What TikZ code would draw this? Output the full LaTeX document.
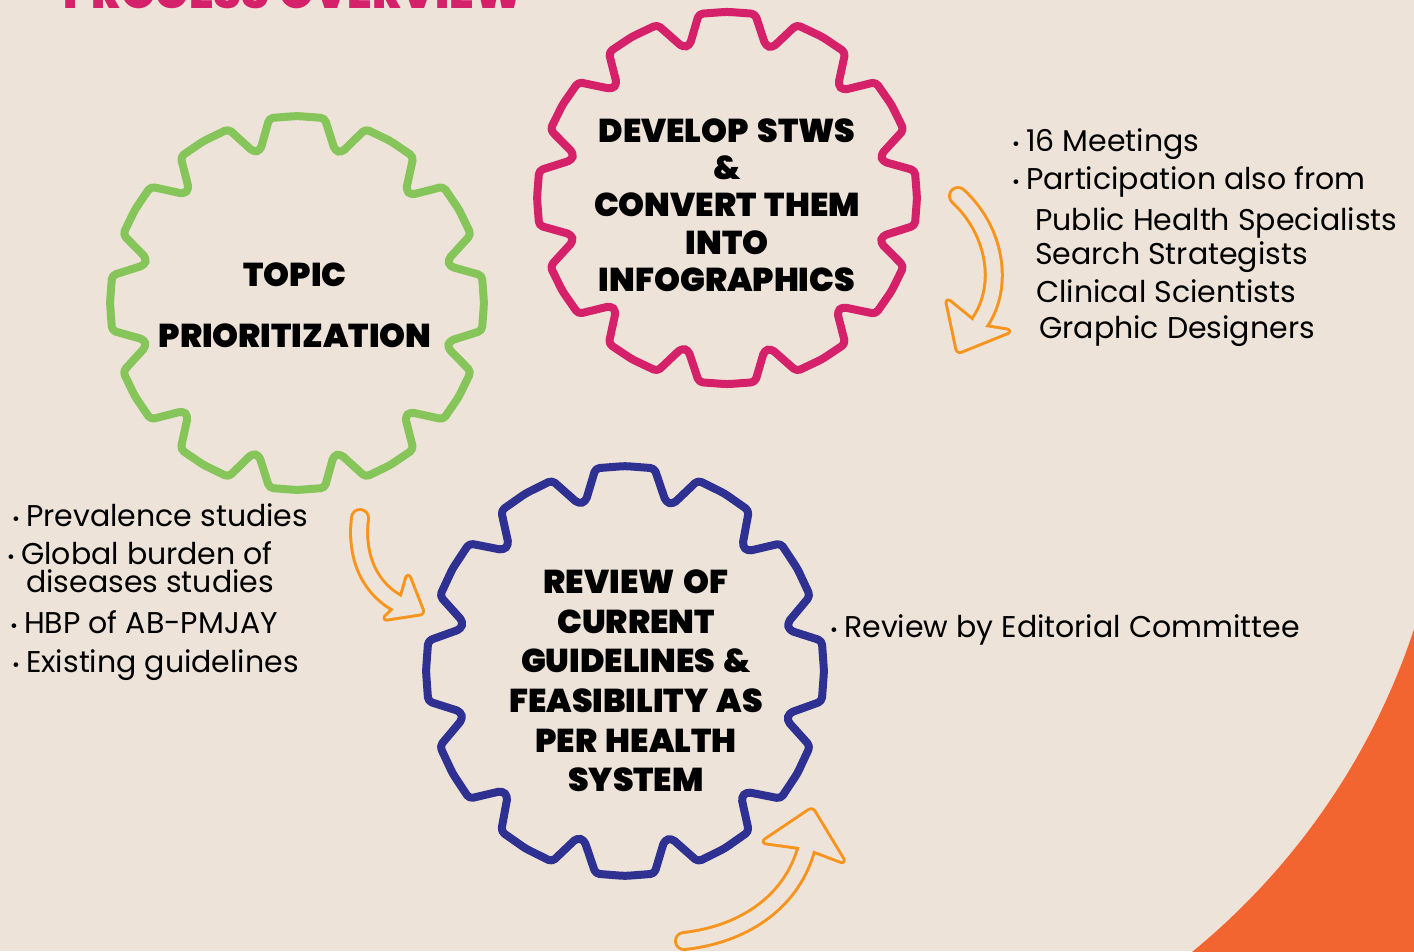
\documentclass[tikz,border=0pt]{standalone}
\usepackage{fontspec}
\setmainfont{Poppins}
\IfFontExistsTF{Poppins Black}{\newfontfamily\heavy{Poppins Black}[WordSpace=1.5]}{\newcommand\heavy{\bfseries}}

\definecolor{bg}{HTML}{EDE3D9}
\definecolor{cogpink}{HTML}{D5216A}
\definecolor{coggreen}{HTML}{86C55A}
\definecolor{cogblue}{HTML}{2E3192}
\definecolor{arroworange}{HTML}{F7941E}
\definecolor{cornerorange}{HTML}{F26531}

\tikzset{
  cogline/.style={line width=8pt, rounded corners=4pt, line join=round},
  coglabel/.style={align=center, inner sep=0pt, font=\heavy\fontsize{33}{37.3}\selectfont},
  item/.style={anchor=base west, inner sep=0pt, font=\fontsize{30}{36}\selectfont},
  arrowrim/.style={draw=arroworange, line width=20pt, line cap=round},
  arrowcore/.style={draw=bg, line width=14pt, line cap=round},
  headrim/.style={draw=arroworange, fill=arroworange, line width=6pt, line join=round, rounded corners=3pt},
  headcore/.style={fill=bg, rounded corners=3pt},
}

% cog with 12 teeth: x, y, radius, yscale, colour
\newcommand\drawcog[5]{%
  \draw[cogline, draw=#5, shift={(#1,#2)}, yscale=#4] (0:#3) -- (8.5:#3)
    \foreach \a in {30,60,...,330} {
      -- ({\a-16}:{#3-30}) -- ({\a-13.5}:{#3-30}) -- ({\a-8.5}:#3) -- (\a:#3) -- ({\a+8.5}:#3)
    }
    -- (344:{#3-30}) -- (346.5:{#3-30}) -- (351.5:#3) -- cycle;
}

% hollow bent arrow: shaft path, head polygon
\newcommand\flowarrow[2]{%
  \draw[arrowrim] #1;
  \filldraw[headrim] #2 -- cycle;
  \draw[arrowcore] #1;
  \fill[headcore] #2 -- cycle;
}

\newcommand\bul{\makebox[14pt][l]{\fontsize{19}{19}\selectfont\raisebox{1pt}{•}}}

\begin{document}
\begin{tikzpicture}[x=1pt, y=-1pt]
  \useasboundingbox (0,0) rectangle (1414,951);
  \clip (0,0) rectangle (1414,951);
  \fill[bg] (0,0) rectangle (1414,951);

  % orange corner, outside a big circle
  \begin{scope}
    \clip (1100,500) rectangle (1414,951);
    \fill[cornerorange, even odd rule] (1000,400) rectangle (1500,1050) (749,410) circle (700);
  \end{scope}

  \node[anchor=base west, inner sep=0pt, text=cogpink, font=\heavy\fontsize{44}{44}\selectfont]
    (title) at (63,8) {PROCESS OVERVIEW};

  % the three cogs
  \drawcog{297}{303}{187}{1}{coggreen}
  \drawcog{727}{198}{190}{0.98}{cogpink}
  \drawcog{625}{671}{199}{1.03}{cogblue}

  \node[coglabel] (topic) at (295,305) {TOPIC\\[24pt]PRIORITIZATION};
  \node[coglabel] (develop) at (727,205) {DEVELOP STWS\\\&\\CONVERT THEM\\INTO\\INFOGRAPHICS};
  \node[coglabel, font=\heavy\fontsize{33}{39.6}\selectfont] (review) at (636,681)
    {REVIEW OF\\CURRENT\\GUIDELINES \&\\FEASIBILITY AS\\PER HEALTH\\SYSTEM};

  % notes beside the cogs
  \foreach \x/\y/\t [count=\i] in {1012/151/\bul 16 Meetings, 1012/189/\bul Participation also from,
      1035/230/Public Health Specialists, 1035/264/Search Strategists,
      1036/302/Clinical Scientists, 1039/338/Graphic Designers}
    \node[item] (devnote\i) at (\x,\y) {\t};
  \foreach \x/\y/\t [count=\i] in {12/526/\bul Prevalence studies, 7/564/\bul Global burden of,
      26/592/diseases studies, 10/633/\bul HBP of AB-PMJAY, 12/672/\bul Existing guidelines}
    \node[item] (topicnote\i) at (\x,\y) {\t};
  \node[item] (reviewnote) at (830,637) {\bul Review by Editorial Committee};

  % flow arrows
  \flowarrow{(958,196) .. controls (995,230) and (1005,285) .. (980,322)}
    {(958,352) -- (947,300) -- (979,326) -- (1010,331)}
  \flowarrow{(360,518) .. controls (355,560) and (372,590) .. (399,604)}
    {(423,613) -- (408,575) -- (400,603) -- (384,619)}
  \flowarrow{(684,941) .. controls (740,935) and (790,905) .. (806,850)}
    {(812,809) -- (844,862) -- (807,848) -- (763,842)}
\end{tikzpicture}
\end{document}
